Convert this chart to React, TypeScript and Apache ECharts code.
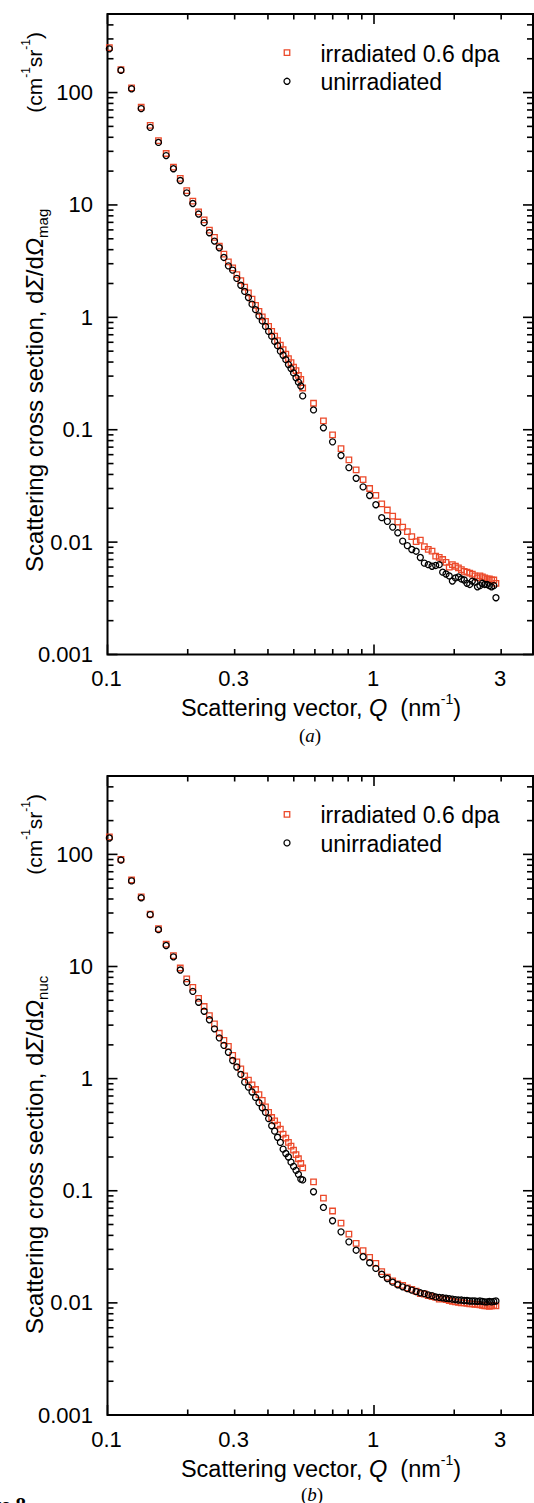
import React, { useEffect, useRef } from "react";
import * as echarts from "echarts";

// ---------- data ----------
// Q values (nm^-1), low-Q detector setting and high-Q detector setting
const qLow = [
  0.1016, 0.1123, 0.1231, 0.1338, 0.1446, 0.1553, 0.166, 0.1768, 0.1875, 0.1983,
  0.209, 0.2197, 0.2305, 0.2412, 0.252, 0.2627, 0.2734, 0.2842, 0.2949, 0.3057,
  0.3164, 0.3271, 0.3379, 0.3486, 0.3594, 0.3701, 0.3808, 0.3916, 0.4023, 0.4131,
  0.4238, 0.4345, 0.4453, 0.456, 0.4668, 0.4775, 0.4882, 0.499, 0.5097, 0.5205, 0.5312,
];
const qHigh = [
  0.54, 0.593, 0.646, 0.699, 0.752, 0.805, 0.857, 0.91, 0.963, 1.016,
  1.069, 1.122, 1.175, 1.228, 1.281, 1.334, 1.386, 1.439, 1.492, 1.545,
  1.598, 1.651, 1.704, 1.757, 1.81, 1.863, 1.915, 1.968, 2.021, 2.074,
  2.127, 2.18, 2.233, 2.286, 2.339, 2.392, 2.444, 2.497, 2.55, 2.603,
  2.656, 2.709, 2.762, 2.815, 2.868,
];

// (a) magnetic cross section
const magIrrLow = [
  251, 160, 110, 74, 51, 37.3, 28.7, 21.7, 17.2, 13.4, 10.8, 8.66, 7.35, 5.98, 5.15,
  4.3, 3.65, 3.12, 2.75, 2.4, 2.12, 1.86, 1.65, 1.45, 1.28, 1.13, 1.01, 0.92, 0.83,
  0.75, 0.68, 0.62, 0.565, 0.515, 0.47, 0.43, 0.395, 0.36, 0.335, 0.305, 0.28,
];
const magUnLow = [
  245, 158, 108, 72, 49, 36, 27.5, 21, 16.5, 12.8, 10.3, 8.3, 6.95, 5.66, 4.77,
  4.16, 3.41, 2.87, 2.63, 2.22, 1.93, 1.7, 1.5, 1.31, 1.17, 1.03, 0.93, 0.83, 0.75,
  0.68, 0.61, 0.56, 0.5, 0.46, 0.42, 0.38, 0.35, 0.32, 0.29, 0.265, 0.245,
];
const magIrrHigh = [
  0.235, 0.172, 0.12, 0.09, 0.068, 0.054, 0.044, 0.036, 0.03, 0.026,
  0.0219, 0.0193, 0.017, 0.0151, 0.0136, 0.0124, 0.0112, 0.0101, 0.0104, 0.0091,
  0.0086, 0.0083, 0.0075, 0.0073, 0.007, 0.0066, 0.006, 0.0063, 0.0061, 0.0059,
  0.0057, 0.0055, 0.0054, 0.0053, 0.0052, 0.005, 0.0048, 0.005, 0.0049, 0.0048,
  0.0047, 0.0047, 0.0046, 0.0046, 0.0043,
];
const magUnHigh = [
  0.2, 0.15, 0.104, 0.078, 0.059, 0.046, 0.037, 0.031, 0.026, 0.0215,
  0.0165, 0.0153, 0.0136, 0.0121, 0.0102, 0.0093, 0.0086, 0.0083, 0.0073, 0.0065,
  0.0063, 0.0061, 0.0062, 0.0063, 0.0054, 0.0052, 0.005, 0.0045, 0.0048, 0.0049,
  0.0047, 0.0046, 0.0043, 0.0042, 0.0045, 0.0044, 0.004, 0.0041, 0.0043, 0.0042,
  0.0042, 0.0041, 0.004, 0.0041, 0.0032,
];

// (b) nuclear cross section
const nucIrrLow = [
  143.5, 90.3, 59.1, 41.7, 29.3, 21.8, 15.8, 12.5, 9.7, 7.74, 6.52, 5.2, 4.4, 3.65,
  3.08, 2.54, 2.19, 1.94, 1.61, 1.41, 1.22, 1.06, 0.97, 0.88, 0.8, 0.72, 0.64, 0.56,
  0.5, 0.45, 0.42, 0.385, 0.355, 0.32, 0.295, 0.27, 0.25, 0.23, 0.21, 0.193, 0.175,
];
const nucUnLow = [
  140, 89, 58, 41, 29, 21.3, 15.4, 12.2, 9.3, 7.22, 6.0, 4.8, 3.99, 3.35, 2.78,
  2.31, 1.98, 1.72, 1.45, 1.27, 1.09, 0.93, 0.84, 0.76, 0.68, 0.61, 0.55, 0.5, 0.44,
  0.38, 0.34, 0.3, 0.27, 0.235, 0.215, 0.2, 0.18, 0.165, 0.152, 0.14, 0.127,
];
const nucIrrHigh = [
  0.16, 0.12, 0.086, 0.066, 0.0515, 0.041, 0.034, 0.0292, 0.0255, 0.0225,
  0.019, 0.017, 0.0157, 0.0148, 0.0143, 0.0136, 0.0132, 0.0127, 0.0121, 0.012,
  0.0116, 0.0114, 0.0112, 0.0108, 0.0109, 0.0107, 0.0105, 0.0103, 0.0102, 0.0101,
  0.01, 0.01, 0.0099, 0.0098, 0.0098, 0.0097, 0.0097, 0.0096, 0.0095, 0.0094,
  0.0094, 0.0093, 0.0094, 0.0095, 0.0094,
];
const nucUnHigh = [
  0.125, 0.098, 0.071, 0.054, 0.043, 0.035, 0.0295, 0.0258, 0.0228, 0.0203,
  0.018, 0.0165, 0.0153, 0.0145, 0.0139, 0.0134, 0.013, 0.0126, 0.0123, 0.0121,
  0.0118, 0.0116, 0.0113, 0.0112, 0.0111, 0.011, 0.0109, 0.0108, 0.0107, 0.0106,
  0.0106, 0.0105, 0.0105, 0.0104, 0.0104, 0.0104, 0.0103, 0.0104, 0.0103, 0.0102,
  0.0102, 0.0103, 0.0102, 0.0103, 0.0104,
];

// ticks and labels
const xTickValues = [0.1, 0.2, 0.3, 0.4, 0.5, 0.6, 0.7, 0.8, 0.9, 1, 2, 3];
const xMajorTicks = [0.1, 1];
const xLabelValues = [0.1, 0.3, 1, 3];
const xTickLabels = ["0.1", "0.3", "1", "3"];
const yDecades = [0.001, 0.01, 0.1, 1, 10, 100];
const yTickLabels = ["0.001", "0.01", "0.1", "1", "10", "100"];
const seriesNames = ["irradiated 0.6 dpa", "unirradiated"];

const X_MIN = 0.1;
const X_MAX = 3.95;
const Y_MIN = 0.001;
const Y_MAX = 500;

const RED = "#ec4a2b";
const FONT = '"Liberation Sans", Arial, sans-serif';
const SERIF = '"Liberation Serif", "Times New Roman", serif';

const yTickValues: number[] = [];
yDecades.forEach((d) => {
  for (let m = 1; m <= 9; m++) {
    const v = +(d * m).toPrecision(3);
    if (v <= Y_MAX) yTickValues.push(v);
  }
});

const pairs = (q: number[], v: number[]) => q.map((x, i) => [x, v[i]]);

function xTickSeries(g: number) {
  return {
    type: "custom",
    xAxisIndex: g,
    yAxisIndex: g,
    silent: true,
    clip: false,
    z: 20,
    data: xTickValues.map((v) => [v, Y_MIN]),
    renderItem: (params: any, api: any) => {
      const v = xTickValues[params.dataIndex];
      const b = api.coord([v, Y_MIN]);
      const t = api.coord([v, Y_MAX]);
      const len = xMajorTicks.indexOf(v) >= 0 ? 10 : 5.5;
      const st = { stroke: "#000", lineWidth: 1.6 };
      const children: any[] = [
        { type: "line", shape: { x1: b[0], y1: b[1], x2: b[0], y2: b[1] - len }, style: st },
        { type: "line", shape: { x1: t[0], y1: t[1], x2: t[0], y2: t[1] + len }, style: st },
      ];
      const li = xLabelValues.indexOf(v);
      if (li >= 0) {
        children.push({
          type: "text",
          x: b[0] - 1,
          y: b[1] + 24,
          style: {
            text: xTickLabels[li],
            fill: "#000",
            fontSize: 22,
            fontFamily: FONT,
            align: "center",
            verticalAlign: "middle",
            textAlign: "center",
            textVerticalAlign: "middle",
          },
        });
      }
      return { type: "group", children };
    },
  };
}

function yTickSeries(g: number) {
  return {
    type: "custom",
    xAxisIndex: g,
    yAxisIndex: g,
    silent: true,
    clip: false,
    z: 20,
    data: yTickValues.map((v) => [X_MIN, v]),
    renderItem: (params: any, api: any) => {
      const v = yTickValues[params.dataIndex];
      const l = api.coord([X_MIN, v]);
      const r = api.coord([X_MAX, v]);
      const di = yDecades.indexOf(v);
      const len = di >= 0 ? 10 : 6;
      const st = { stroke: "#000", lineWidth: 1.6 };
      const children: any[] = [
        { type: "line", shape: { x1: l[0], y1: l[1], x2: l[0] + len, y2: l[1] }, style: st },
        { type: "line", shape: { x1: r[0], y1: r[1], x2: r[0] - len, y2: r[1] }, style: st },
      ];
      if (di >= 0) {
        children.push({
          type: "text",
          x: l[0] - 14.5,
          y: l[1],
          style: {
            text: yTickLabels[di],
            fill: "#000",
            fontSize: 22,
            fontFamily: FONT,
            align: "right",
            verticalAlign: "middle",
            textAlign: "right",
            textVerticalAlign: "middle",
          },
        });
      }
      return { type: "group", children };
    },
  };
}

function scatter(g: number, name: string, data: number[][], irr: boolean) {
  return {
    type: "scatter",
    name,
    xAxisIndex: g,
    yAxisIndex: g,
    symbol: irr ? "rect" : "circle",
    symbolSize: irr ? 5.5 : 6,
    data,
    itemStyle: {
      color: "rgba(0,0,0,0)",
      borderColor: irr ? RED : "#000",
      borderWidth: 1.3,
      opacity: 1,
    },
    emphasis: { disabled: true },
    z: irr ? 5 : 6,
  };
}

function makeRich(size: number, small: number) {
  return {
    n: { fontSize: size, fontFamily: FONT, fill: "#000", lineHeight: size + 8 },
    i: { fontSize: size, fontFamily: FONT, fontStyle: "italic", fill: "#000", lineHeight: size + 8 },
    sub: { fontSize: small, fontFamily: FONT, fill: "#000", verticalAlign: "bottom", lineHeight: small },
    sup: { fontSize: small, fontFamily: FONT, fill: "#000", verticalAlign: "top", lineHeight: small },
  };
}

function txt(x: number, y: number, text: string, opts: any = {}) {
  const align = opts.align || "left";
  return {
    type: "text",
    x,
    y,
    rotation: opts.rotation || 0,
    silent: true,
    style: {
      text,
      rich: opts.rich,
      fill: "#000",
      font: opts.font || `23px ${FONT}`,
      align,
      textAlign: align,
      verticalAlign: "middle",
      textVerticalAlign: "middle",
    },
  };
}

function legend(topY: number) {
  return [
    {
      type: "rect",
      silent: true,
      shape: { x: 287 - 2.75, y: topY - 2.75, width: 5.5, height: 5.5 },
      style: { fill: "none", stroke: RED, lineWidth: 1.3 },
    },
    {
      type: "circle",
      silent: true,
      shape: { cx: 287, cy: topY + 28.6, r: 3 },
      style: { fill: "none", stroke: "#000", lineWidth: 1.3 },
    },
    txt(320.5, topY + 1, seriesNames[0]),
    txt(320.5, topY + 29.6, seriesNames[1]),
  ];
}

function yTitle(bottomY: number, topY: number, sub: string) {
  return [
    txt(34, bottomY, `{n|Scattering cross section, d}{i|Σ}{n|/d}{i|Ω}{sub|${sub}}`, {
      rotation: Math.PI / 2,
      rich: makeRich(24, 15),
      align: "left",
    }),
    txt(34, topY, "{n|(cm}{sup|-1}{n|sr}{sup|-1}{n|)}", {
      rotation: Math.PI / 2,
      rich: makeRich(21, 12),
      align: "right",
    }),
  ];
}

function xTitle(y: number) {
  return txt(321, y, "{n|Scattering vector, }{i|Q}{n|  (nm}{sup|-1}{n|)}", {
    rich: makeRich(23.5, 14),
    align: "center",
  });
}

const capRich = {
  n: { fontSize: 19, fontFamily: SERIF, fill: "#000" },
  i: { fontSize: 19, fontFamily: SERIF, fontStyle: "italic", fill: "#000" },
};

export default function App() {
  const ref = useRef<HTMLDivElement>(null);
  useEffect(() => {
    if (!ref.current) return;
    const chart = echarts.init(ref.current, undefined, { renderer: "svg" });
    const axisCommon = {
      type: "log",
      logBase: 10,
      axisLine: { show: false },
      axisTick: { show: false },
      axisLabel: { show: false },
      splitLine: { show: false },
      minorTick: { show: false },
    };
    const gridCommon = {
      show: true,
      borderColor: "#000",
      borderWidth: 2,
      backgroundColor: "rgba(0,0,0,0)",
      containLabel: false,
      outerBoundsMode: "none",
    };
    chart.setOption({
      animation: false,
      backgroundColor: "#fff",
      grid: [
        { ...gridCommon, left: 107.5, top: 14, width: 425.5, height: 640.5 },
        { ...gridCommon, left: 107.5, top: 776, width: 425.5, height: 639 },
      ],
      xAxis: [
        { ...axisCommon, gridIndex: 0, min: X_MIN, max: X_MAX },
        { ...axisCommon, gridIndex: 1, min: X_MIN, max: X_MAX },
      ],
      yAxis: [
        { ...axisCommon, gridIndex: 0, min: Y_MIN, max: Y_MAX },
        { ...axisCommon, gridIndex: 1, min: Y_MIN, max: Y_MAX },
      ],
      series: [
        scatter(0, seriesNames[0], pairs(qLow, magIrrLow).concat(pairs(qHigh, magIrrHigh)), true),
        scatter(0, seriesNames[1], pairs(qLow, magUnLow).concat(pairs(qHigh, magUnHigh)), false),
        scatter(1, seriesNames[0], pairs(qLow, nucIrrLow).concat(pairs(qHigh, nucIrrHigh)), true),
        scatter(1, seriesNames[1], pairs(qLow, nucUnLow).concat(pairs(qHigh, nucUnHigh)), false),
        xTickSeries(0),
        yTickSeries(0),
        xTickSeries(1),
        yTickSeries(1),
      ],
      graphic: [
        ...legend(52.7),
        ...legend(814.3),
        ...yTitle(572, 32, "mag"),
        ...yTitle(1334, 794, "nuc"),
        xTitle(708),
        xTitle(1469),
        txt(310, 735, "{n|(}{i|a}{n|)}", { rich: capRich, align: "center" }),
        txt(312, 1494, "{n|(}{i|b}{n|)}", { rich: capRich, align: "center" }),
        {
          type: "text",
          x: 26,
          y: 1494,
          silent: true,
          style: {
            text: "Figure 8",
            fill: "#000",
            font: `bold 21px ${SERIF}`,
            align: "right",
            textAlign: "right",
            verticalAlign: "top",
            textVerticalAlign: "top",
          },
        },
      ],
    });
    return () => chart.dispose();
  }, []);
  return (
    <div
      ref={ref}
      style={{ position: "absolute", left: 0, top: 0, width: 534, height: 1503, background: "#fff" }}
    />
  );
}
